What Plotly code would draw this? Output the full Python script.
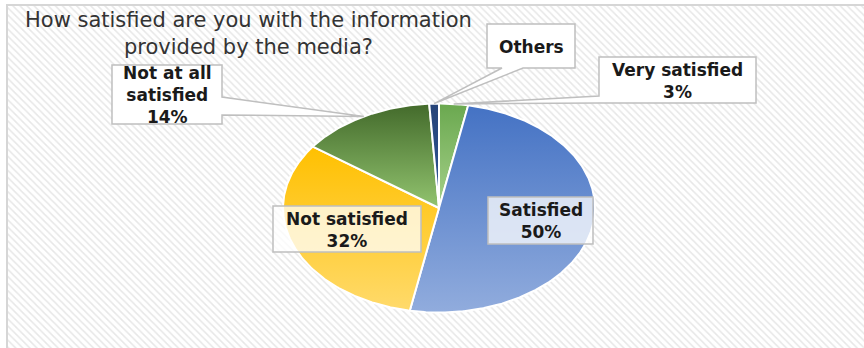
import numpy as np
import plotly.graph_objects as go

# ---- data ----
categories = ["Very satisfied", "Satisfied", "Not satisfied", "Not at all satisfied", "Others"]
shares = [3, 50, 32, 14, 1]
label_lines = [["Very satisfied"], ["Satisfied"], ["Not satisfied"], ["Not at all", "satisfied"], ["Others"]]
show_pct = [True, True, True, True, False]
title_lines = ["How satisfied are you with the information", "provided by the media?"]

# ---- styling ----
top_colors = ["#6aa84f", "#4472c4", "#ffc000", "#436a2b", "#264478"]
bottom_colors = ["#a6d18a", "#91acdd", "#ffda6b", "#92c46f", "#2f5597"]

W, H = 864, 348
CX, CY, RX, RY = 439, 208, 156, 104.5   # pie centre / radii in pixels (stretched ellipse)
LABEL_SIZE = 17
TITLE_SIZE = 21


def dx(x):
    return (x - CX) / RX


def dy(y):
    return (CY - y) / RY


def path_from(points):
    pts = [f"{dx(x):.4f},{dy(y):.4f}" for x, y in points]
    return "M " + " L ".join(pts) + " Z"


fig = go.Figure()

# hatched chart background
bx0, by0, bx1, by1 = 8, 6, W + 5, H + 5
fig.add_trace(go.Scatter(
    x=[dx(bx0), dx(bx1), dx(bx1), dx(bx0), dx(bx0)],
    y=[dy(by0), dy(by0), dy(by1), dy(by1), dy(by0)],
    mode="none", fill="toself", fillcolor="white",
    fillpattern=dict(shape="\\", fgcolor="#cfcfcf", bgcolor="white", size=5, solidity=0.3),
    hoverinfo="skip", showlegend=False,
))

# pie slices, clockwise from 12 o'clock
total = float(sum(shares))
start = 0.0
mid_angles = []
for name, v, ct, cb in zip(categories, shares, top_colors, bottom_colors):
    span = 360.0 * v / total
    th = np.radians(np.linspace(start, start + span, max(int(span * 2), 6)))
    xs = np.concatenate([[0.0], np.sin(th), [0.0]])
    ys = np.concatenate([[0.0], np.cos(th), [0.0]])
    fig.add_trace(go.Scatter(
        x=xs, y=ys, mode="lines", fill="toself",
        line=dict(color="white", width=2),
        fillgradient=dict(type="vertical", colorscale=[[0, cb], [1, ct]]),
        name=name, hoverinfo="skip", showlegend=False,
    ))
    mid_angles.append(start + span / 2)
    start += span


def tip(i, r=1.0):
    a = np.radians(mid_angles[i])
    return CX + RX * r * np.sin(a), CY - RY * r * np.cos(a)


BORDER = "#bfbfbf"
shapes = []
# chart frame
shapes.append(dict(type="rect", xref="paper", yref="paper",
                   x0=7 / W, x1=(W + 10) / W, y0=-10 / H, y1=1 - 5 / H,
                   line=dict(color="#d6d6d6", width=2), fillcolor="rgba(0,0,0,0)", layer="below"))

# callout boxes with wedge pointers
boxes = {}
# Very satisfied: wedge on the left edge
x0, y0, x1, y1 = 599, 57, 756, 103
tx, ty = tip(0)
boxes[0] = (x0, y0, x1, y1)
shapes.append(dict(type="path", xref="x", yref="y",
                   path=path_from([(x0, y0), (x1, y0), (x1, y1), (x0, y1), (tx, ty), (x0, 96)]),
                   fillcolor="white", line=dict(color=BORDER, width=1.5)))
# Others: wedge on the bottom edge
x0, y0, x1, y1 = 487, 24, 575, 68
tx, ty = tip(4)
boxes[4] = (x0, y0, x1, y1)
shapes.append(dict(type="path", xref="x", yref="y",
                   path=path_from([(x0, y0), (x1, y0), (x1, y1), (523, y1), (tx, ty), (502, y1), (x0, y1)]),
                   fillcolor="white", line=dict(color=BORDER, width=1.5)))
# Not at all satisfied: wedge on the right edge
x0, y0, x1, y1 = 112, 65, 222, 124
tx, ty = tip(3)
boxes[3] = (x0, y0, x1, y1)
shapes.append(dict(type="path", xref="x", yref="y",
                   path=path_from([(x0, y0), (x1, y0), (x1, 97), (tx, ty), (x1, 115), (x1, y1), (x0, y1)]),
                   fillcolor="white", line=dict(color=BORDER, width=1.5)))
# labels sitting on the pie
boxes[2] = (273, 206, 421, 252)
boxes[1] = (488, 197, 593, 244)
for i in (1, 2):
    x0, y0, x1, y1 = boxes[i]
    shapes.append(dict(type="path", xref="x", yref="y",
                       path=path_from([(x0, y0), (x1, y0), (x1, y1), (x0, y1)]),
                       fillcolor="rgba(255,255,255,0.75)", line=dict(color=BORDER, width=1.5)))

annotations = []
for i, lines in enumerate(label_lines):
    x0, y0, x1, y1 = boxes[i]
    txt = list(lines)
    if show_pct[i]:
        txt.append(f"{shares[i] / total * 100:.0f}%")
    annotations.append(dict(
        x=dx((x0 + x1) / 2), y=dy((y0 + y1) / 2 + 0.5), xref="x", yref="y",
        text="<br>".join(f"<b>{t}</b>" for t in txt), showarrow=False,
        font=dict(family="DejaVu Sans", size=LABEL_SIZE, color="#1a1a1a"),
        xanchor="center", yanchor="middle", align="center",
    ))

annotations.append(dict(
    x=249 / W, y=1 - 33 / H, xref="paper", yref="paper",
    text="<br>".join(title_lines), showarrow=False,
    font=dict(family="DejaVu Sans", size=TITLE_SIZE, color="#333333"),
    xanchor="center", yanchor="middle", align="center",
))

fig.update_layout(
    width=W, height=H, autosize=False,
    margin=dict(l=0, r=0, t=0, b=0),
    paper_bgcolor="white", plot_bgcolor="white",
    xaxis=dict(range=[dx(0), dx(W)], visible=False, fixedrange=True),
    yaxis=dict(range=[dy(H), dy(0)], visible=False, fixedrange=True),
    shapes=shapes, annotations=annotations,
    showlegend=False,
)

fig.write_html("out.html")
